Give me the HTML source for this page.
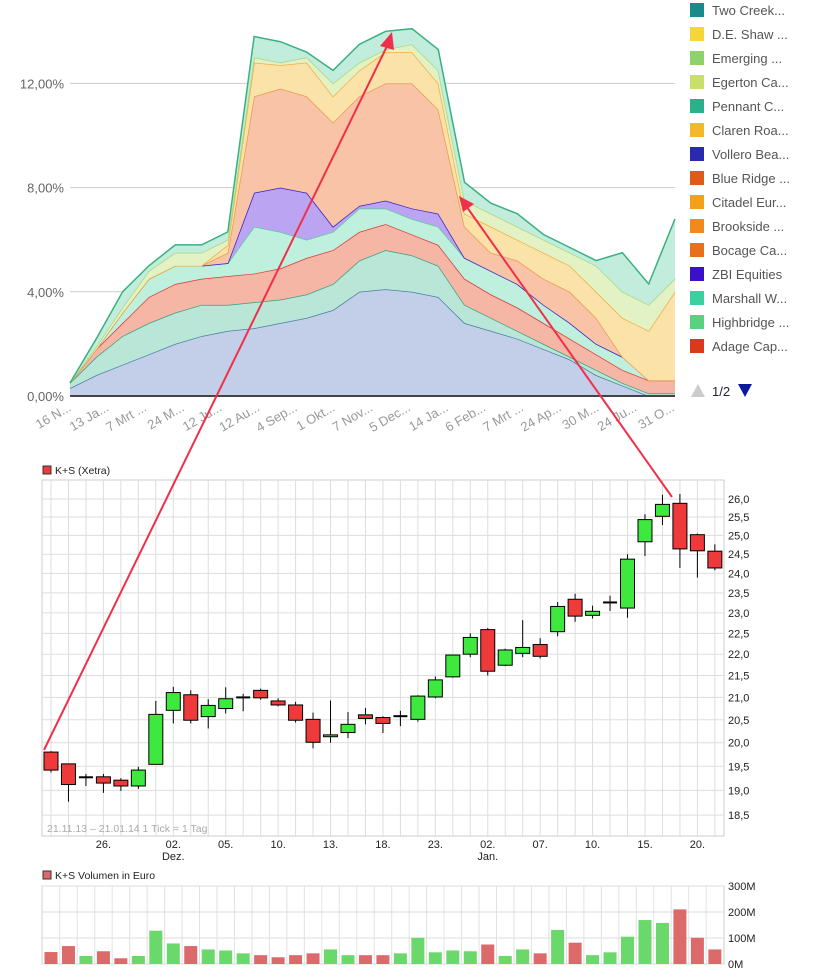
<!DOCTYPE html>
<html><head><meta charset="utf-8">
<style>
body{margin:0;background:#fff;width:840px;height:977px;overflow:hidden;font-family:"Liberation Sans",sans-serif}
svg{position:absolute;left:0;top:0}
</style></head>
<body>
<svg id="svg" width="840" height="977"></svg>
<script>
// ---- top stacked area chart data (cumulative %) ----
const topLabels=["16 N...","13 Ja...","7 Mrt ...","24 M...","12 Ju...","12 Au...","4 Sep...","1 Okt...","7 Nov...","5 Dec...","14 Ja...","6 Feb...","7 Mrt ...","24 Ap...","30 M...","24 Ju...","31 O..."];
const yTicksTop=[0,4,8,12];
const layerBlue=[0.3,0.8,1.2,1.6,2.0,2.3,2.5,2.6,2.8,3.0,3.3,4.0,4.1,4.0,3.8,2.8,2.5,2.2,1.8,1.4,0.8,0.4,0,0];
const layerTeal=[0.5,1.5,2.3,2.8,3.2,3.5,3.5,3.6,3.7,3.9,4.3,5.2,5.6,5.4,5.0,3.5,3.0,2.5,2.0,1.5,1.0,0.5,0.1,0.1];
const layerRed=[0.5,1.8,2.8,3.8,4.3,4.5,4.6,4.7,4.9,5.3,5.6,6.3,6.6,6.2,5.8,4.5,3.9,3.4,2.8,2.2,1.6,1.0,0.6,0.6];
const layerMint=[0.5,1.8,3.2,4.5,5.0,5.0,5.1,6.5,6.3,6.0,6.3,7.2,7.2,6.8,6.5,5.3,4.8,4.3,3.5,2.8,2.0,1.5,1.0,1.0];
const layerPurple=[0.5,1.8,3.2,4.5,5.0,5.0,5.1,7.8,8.0,7.8,6.5,7.3,7.5,7.2,7.0,5.3,4.8,4.3,3.5,2.8,2.0,1.5,1.0,1.0];
const layerPeach=[0.5,1.8,3.2,4.5,5.0,5.0,5.5,11.5,11.8,11.5,10.5,11.5,12.0,12.0,11.0,6.5,5.5,5.2,4.5,4.0,3.0,1.5,0.6,0.6];
const layerYellow=[0.5,1.8,3.2,4.5,5.0,5.0,5.8,12.8,12.7,12.8,11.5,12.5,13.2,13.2,12.0,7.0,6.5,6.0,5.5,5.0,4.0,3.0,2.5,4.0];
const layerLGreen=[0.5,1.9,3.4,4.8,5.5,5.5,6.0,13.0,12.8,13.0,12.0,12.8,13.3,13.5,12.5,7.5,7.0,6.5,6.0,5.5,5.0,4.0,3.5,4.5];
const layerTop=[0.5,2.2,4.0,5.0,5.8,5.8,6.3,13.8,13.6,13.2,12.5,13.5,14.0,14.1,13.3,8.2,7.4,7.0,6.2,5.7,5.2,5.5,4.3,6.8];
const legendNames=["Two Creek...","D.E. Shaw ...","Emerging ...","Egerton Ca...","Pennant C...","Claren Roa...","Vollero Bea...","Blue Ridge ...","Citadel Eur...","Brookside ...","Bocage Ca...","ZBI Equities","Marshall W...","Highbridge ...","Adage Cap..."];
const legendColors=["#1a8a8a","#f5d63a","#8fd16a","#c8e06a","#2ab08a","#f5b82a","#2a2ab0","#e05a1a","#f5a01a","#f08a1a","#e8701a","#3a10c8","#3ad0a0","#5ad080","#d83a1a"];
// ---- candlestick data [open, high, low, close] ----
const opens=[19.80,19.55,19.27,19.28,19.21,19.09,19.54,20.71,21.06,20.57,20.75,21.0,21.16,20.92,20.83,20.51,20.13,20.22,20.61,20.55,20.58,20.51,21.01,21.47,22.0,22.59,21.74,22.02,22.23,22.54,23.34,22.94,23.26,23.12,24.83,25.52,25.88,25.02,24.58];
const highs=[19.82,19.55,19.34,19.34,19.25,19.49,20.92,21.24,21.16,20.96,21.23,21.08,21.20,20.98,20.90,20.66,20.93,20.67,20.76,20.58,20.70,21.05,21.48,21.98,22.5,22.63,22.13,22.82,22.38,23.27,23.48,23.18,23.43,24.5,25.58,26.12,26.14,25.05,24.76];
const lows=[19.37,18.77,19.09,18.95,18.99,19.03,19.54,20.42,20.42,20.31,20.64,20.69,20.95,20.80,20.44,19.88,20.0,20.1,20.4,20.21,20.36,20.46,20.98,21.45,21.93,21.5,21.72,21.93,21.9,22.43,22.78,22.86,23.05,22.88,24.45,25.28,24.14,23.89,24.08];
const closes=[19.42,19.12,19.27,19.15,19.09,19.42,20.62,21.11,20.49,20.82,20.97,21.0,20.99,20.83,20.49,20.01,20.17,20.40,20.53,20.42,20.58,21.03,21.40,21.98,22.40,21.60,22.10,22.16,21.95,23.16,22.92,23.04,23.26,24.37,25.43,25.85,24.64,24.59,24.14];
const priceTicks=[26.0,25.5,25.0,24.5,24.0,23.5,23.0,22.5,22.0,21.5,21.0,20.5,20.0,19.5,19.0,18.5];
const dateTicks=[[3,"26.",""],[7,"02.","Dez."],[10,"05.",""],[13,"10.",""],[16,"13.",""],[19,"18.",""],[22,"23.",""],[25,"02.","Jan."],[28,"07.",""],[31,"10.",""],[34,"15.",""],[37,"20.",""]];
const volumes=[46,69,31,49,22,31,128,79,69,56,52,41,34,26,34,41,56,34,34,34,41,101,45,52,49,75,31,56,41,131,82,34,45,105,169,158,210,101,56];
const volTicks=[0,100,200,300];

const NS="http://www.w3.org/2000/svg";
const svg=document.getElementById('svg');
function el(tag,attrs,parent,text){const e=document.createElementNS(NS,tag);for(const k in attrs)e.setAttribute(k,attrs[k]);if(text!==undefined)e.textContent=text;(parent||svg).appendChild(e);return e;}

// ===== top chart =====
const tx=i=>70+i*(605/(layerTop.length-1));
const ty=v=>396-v*26.05;
const gTop=el('g',{});


yTicksTop.forEach(v=>{
  if(v>0){const l=el('line',{x1:70,x2:675,y1:ty(v),y2:ty(v),stroke:'#ccc','stroke-width':1},gTop);
  }
  const t=el('text',{x:64,y:ty(v)+5,'text-anchor':'end','font-size':13,fill:'#666'},gTop,v.toFixed(2).replace('.',',')+'%');
  
});
const layers=[[layerBlue,'#c3cfe8','#4a7ea6','layer-blue'],[layerTeal,'#b9e6d6','#3aa080','layer-teal'],[layerRed,'#f5b6a6','#d83a3a','layer-adage'],[layerMint,'#bff0de','#60c8a0','layer-marshall'],[layerPurple,'#bba4f2','#3a20c8','layer-zbi'],[layerPeach,'#f8c3a6','#e89a50','layer-bocage'],[layerYellow,'#fbe2a8','#f0b040','layer-claren'],[layerLGreen,'#e2f2c4','#a8d880','layer-egerton'],[layerTop,'#c2ecdc','#3ab080','layer-two-creek']];
let prev=layerTop.map(()=>0);
layers.forEach(([arr,fill,stroke,name])=>{
  let d='M'+arr.map((v,i)=>tx(i)+','+ty(v)).join(' L');
  for(let i=arr.length-1;i>=0;i--)d+=' L'+tx(i)+','+ty(prev[i]);
  const p=el('path',{d:d+'Z',fill:fill,stroke:'none'},gTop);
  
  const ln=el('polyline',{points:arr.map((v,i)=>tx(i)+','+ty(v)).join(' '),fill:'none',stroke:stroke,'stroke-width':1.5},gTop);
  
  prev=arr;
});
const base=el('line',{x1:70,x2:675,y1:396,y2:396,stroke:'#444','stroke-width':2},gTop);

topLabels.forEach((s,i)=>{
  const x=72+i*37.7;
  const t=el('text',{x:x,y:410,'text-anchor':'end','font-size':13,fill:'#999',transform:`rotate(-30 ${x} 410)`},gTop,s);
  
});
// legend
legendNames.forEach((n,i)=>{
  const g=el('g',{});
  
  el('rect',{x:690,y:3+i*24,width:14,height:14,fill:legendColors[i]},g);
  el('text',{x:712,y:15+i*24,'font-size':13,fill:'#555'},g,n);
});
const pu=el('polygon',{points:'691,397 698,384 705,397',fill:'#ccc'});

const pt=el('text',{x:712,y:396,'font-size':13,fill:'#223'},svg,'1/2');

const pd=el('polygon',{points:'738,384 752,384 745,397',fill:'#0a1a9a'});


// ===== candlestick chart =====
const L=42,R=724,T=480,B=836;
const cx=i=>51+i*17.47;
const py=p=>499+Math.log(26/p)*929;
const gC=el('g',{});


el('rect',{x:L,y:T,width:R-L,height:B-T,fill:'#fff',stroke:'#ccc'},gC);
opens.forEach((o,i)=>{const l=el('line',{x1:cx(i),x2:cx(i),y1:T,y2:B,stroke:'#ddd'},gC);
  });
priceTicks.forEach(p=>{
  const l=el('line',{x1:L,x2:R,y1:py(p),y2:py(p),stroke:'#ddd'},gC);
  
  const t=el('text',{x:728,y:py(p)+4,'font-size':11,fill:'#222'},gC,p.toFixed(1).replace('.',','));
  
});
dateTicks.forEach(([i,a,b])=>{
  const t=el('text',{x:cx(i),y:848,'text-anchor':'middle','font-size':11,fill:'#222'},gC,a);
  
  if(b){const t2=el('text',{x:cx(i),y:860,'text-anchor':'middle','font-size':11,fill:'#222'},gC,b);
  }
});
const rng=el('text',{x:47,y:832,'font-size':10.5,fill:'#aaa'},gC,'21.11.13 – 21.01.14    1 Tick = 1 Tag');

opens.forEach((o,i)=>{
  const c=closes[i],x=cx(i);
  const g=el('g',{},gC);
  
  el('line',{x1:x,x2:x,y1:py(highs[i]),y2:py(lows[i]),stroke:'#000','stroke-width':1},g);
  if(Math.abs(o-c)<0.02){el('line',{x1:x-7,x2:x+7,y1:py(o),y2:py(o),stroke:'#000','stroke-width':2},g);}
  else{const top=py(Math.max(o,c)),bot=py(Math.min(o,c));
    el('rect',{x:x-7,y:top,width:14,height:bot-top,fill:c>o?'#3ee83e':'#ee3a3a',stroke:'#000','stroke-width':1},g);}
});
const lg1=el('g',{});

el('rect',{x:43,y:466,width:8,height:8,fill:'#ee3a3a',stroke:'#333'},lg1);
el('text',{x:55,y:474,'font-size':10.5,fill:'#222'},lg1,'K+S (Xetra)');

// ===== volume chart =====
const VT=886,VB=964;
const vy=v=>VB-v*(VB-VT)/300;
const gV=el('g',{});


el('rect',{x:L,y:VT,width:R-L,height:VB-VT,fill:'#fff',stroke:'#ccc'},gV);
opens.forEach((o,i)=>{if(i%1===0){const l=el('line',{x1:cx(i)-8.7,x2:cx(i)-8.7,y1:VT,y2:VB,stroke:'#e2e2e2'},gV);
  }});
volTicks.forEach(v=>{
  const l=el('line',{x1:L,x2:R,y1:vy(v),y2:vy(v),stroke:'#ddd'},gV);
  
  const t=el('text',{x:728,y:vy(v)+4,'font-size':11,fill:'#222'},gV,v+'M');
  
});
volumes.forEach((v,i)=>{
  const r=el('rect',{x:cx(i)-6.5,y:vy(v),width:13,height:VB-vy(v),fill:closes[i]>=opens[i]?'#6ad86a':'#dc6a6a'},gV);
  
});
const lg2=el('g',{});

el('rect',{x:43,y:871,width:8,height:8,fill:'#dc6a6a',stroke:'#333'},lg2);
el('text',{x:55,y:879,'font-size':10.5,fill:'#222'},lg2,'K+S Volumen in Euro');

// ===== annotation arrows =====
const ga=el('g',{});

el('line',{x1:44,y1:750,x2:390,y2:40,stroke:'#f0304a','stroke-width':2},ga);
el('polygon',{points:'392,32 380,46 394,50',fill:'#f0304a'},ga);
el('line',{x1:672,y1:497,x2:464,y2:203,stroke:'#f0304a','stroke-width':2},ga);
el('polygon',{points:'459,196 463,212 474,204',fill:'#f0304a'},ga);
</script>
</body></html>
